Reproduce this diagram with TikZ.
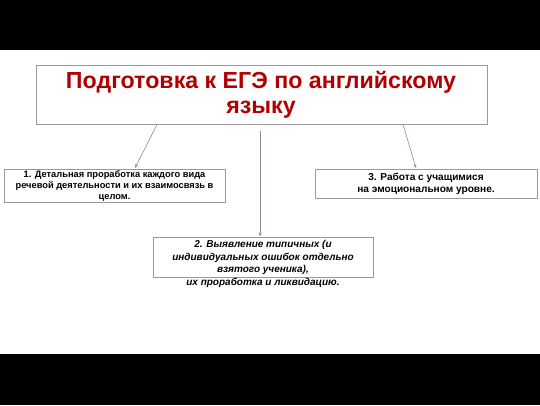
\documentclass[tikz,border=0pt]{standalone}
\usepackage{fontspec}
\setmainfont{Liberation Sans}
\usetikzlibrary{arrows.meta}
\definecolor{titlered}{HTML}{B00000}
\definecolor{linecol}{HTML}{8A8AA8}
\definecolor{boxline}{HTML}{9A9A9A}
\begin{document}
\begin{tikzpicture}[x=1pt,y=-1pt,
  box/.style={draw=boxline,line width=0.9pt,fill=white,inner sep=0pt},
  conn/.style={draw=linecol,line width=0.6pt,-{Stealth[length=4pt,width=3pt]}},
  txt/.style={align=center,inner sep=0pt,text=black}]
\useasboundingbox (0,0) rectangle (540,405);
\fill[black] (0,0) rectangle (540,50);
\fill[black] (0,354) rectangle (540,405);
% title
\node[box,minimum width=451pt,minimum height=59pt] (title) at (261.5,94.5) {};
\node[txt,text=titlered,font=\fontsize{23.2}{25}\selectfont\bfseries] (titletext) at (261,95)
  {Подготовка к ЕГЭ по английскому\\языку};
% box 1
\node[box,minimum width=221pt,minimum height=33pt] (b1) at (114.5,185.5) {};
\node[txt,font=\fontsize{9.3}{10.6}\selectfont\bfseries] (t1) at (114.5,186)
  {1. Детальная проработка каждого вида\\речевой деятельности и их взаимосвязь в\\целом.};
% box 3
\node[box,minimum width=222pt,minimum height=29pt] (b3) at (426,183.5) {};
\node[txt,font=\fontsize{10.1}{12}\selectfont\bfseries] (t3) at (426,183.5)
  {3. Работа с учащимися\\на эмоциональном уровне.};
% box 2
\node[box,minimum width=220pt,minimum height=40pt] (b2) at (263,257) {};
\node[txt,font=\fontsize{10}{12.4}\selectfont\bfseries\itshape] (t2) at (263,264)
  {2. Выявление типичных (и\\индивидуальных ошибок отдельно\\взятого ученика),\\их проработка и ликвидацию.};
% connectors
\coordinate (s1) at (157,124.5);
\coordinate (e1) at (135,168);
\coordinate (s2) at (260,131);
\coordinate (e2) at (260,236.5);
\coordinate (s3) at (403,124.5);
\coordinate (e3) at (416,168);
\draw[conn] (s1) -- (e1);
\draw[conn] (s2) -- (e2);
\draw[conn] (s3) -- (e3);
\end{tikzpicture}
\end{document}
